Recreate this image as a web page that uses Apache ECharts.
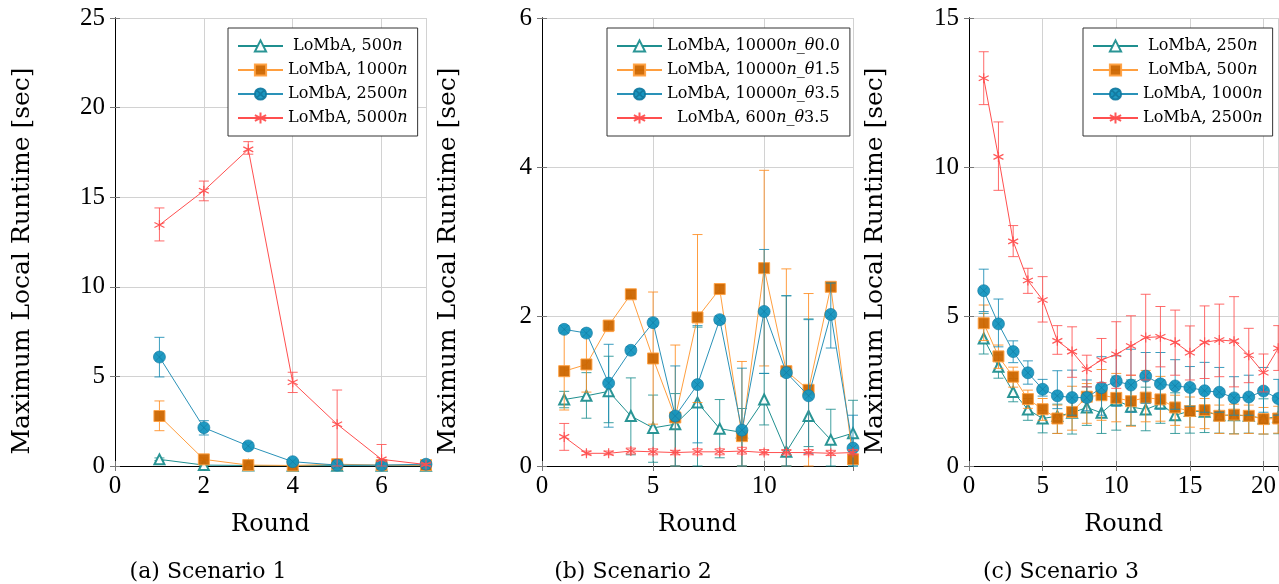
<!DOCTYPE html>
<html><head><meta charset="utf-8">
<script src="https://cdn.jsdelivr.net/npm/echarts@6/dist/echarts.min.js"></script>
<style>html,body{margin:0;padding:0;background:#fff}#c{width:1279px;height:584px}</style>
</head><body><div id="c"></div>
<script>
// ---------- Scenario 1 ----------
const rounds1 = [1,2,3,4,5,6,7];
const s1_500_mean  = [0.37,0.05,0.03,0.02,0.02,0.02,0.02];
const s1_500_lo    = [0.30,0.02,0.01,0.00,0.00,0.00,0.00];
const s1_500_hi    = [0.45,0.08,0.05,0.04,0.04,0.04,0.04];
const s1_1000_mean = [2.79,0.37,0.05,0.03,0.10,0.05,0.05];
const s1_1000_lo   = [1.97,0.30,0.02,0.01,0.00,0.01,0.02];
const s1_1000_hi   = [3.63,0.45,0.08,0.05,0.30,0.10,0.08];
const s1_2500_mean = [6.08,2.14,1.12,0.24,0.05,0.05,0.10];
const s1_2500_lo   = [4.97,1.73,0.95,0.18,0.02,0.02,0.05];
const s1_2500_hi   = [7.18,2.53,1.30,0.30,0.10,0.10,0.15];
const s1_5000_mean = [13.45,15.36,17.67,4.67,2.33,0.37,0.08];
const s1_5000_lo   = [12.56,14.80,17.40,4.10,0.00,0.00,0.02];
const s1_5000_hi   = [14.40,15.90,18.10,5.23,4.24,1.20,0.15];

// ---------- Scenario 2 ----------
const rounds2 = [1,2,3,4,5,6,7,8,9,10,11,12,13,14];
const s2_t00_mean = [0.89,0.94,1.00,0.67,0.51,0.56,0.85,0.50,0.45,0.89,0.19,0.67,0.35,0.44];
const s2_t00_lo   = [0.78,0.64,0.58,0.15,0.05,0.00,0.00,0.11,0.00,0.55,0.00,0.26,0.00,0.00];
const s2_t00_hi   = [1.00,1.25,1.47,1.18,0.95,0.97,1.86,0.89,0.77,1.24,2.28,1.97,0.76,0.88];
const s2_t15_mean = [1.27,1.36,1.88,2.30,1.44,0.65,1.99,2.37,0.40,2.65,1.27,1.02,2.40,0.09];
const s2_t15_lo   = [0.75,0.99,1.80,2.25,0.56,0.00,0.85,2.32,0.00,1.34,0.00,0.00,2.35,0.03];
const s2_t15_hi   = [1.82,1.75,1.95,2.35,2.33,1.62,3.10,2.42,1.40,3.96,2.64,2.31,2.45,0.15];
const s2_t35_mean = [1.83,1.78,1.11,1.55,1.92,0.67,1.09,1.96,0.48,2.07,1.25,0.94,2.03,0.24];
const s2_t35_lo   = [1.78,1.73,0.52,1.50,1.87,0.00,0.31,1.91,0.00,1.24,0.00,0.17,1.58,0.00];
const s2_t35_hi   = [1.88,1.83,1.63,1.60,1.97,1.34,1.88,2.01,1.31,2.90,2.28,1.96,2.45,0.68];
const s2_600_mean = [0.39,0.17,0.17,0.20,0.19,0.18,0.19,0.19,0.20,0.18,0.18,0.18,0.17,0.18];
const s2_600_lo   = [0.21,0.15,0.15,0.16,0.15,0.15,0.15,0.15,0.16,0.15,0.15,0.15,0.14,0.15];
const s2_600_hi   = [0.57,0.20,0.20,0.24,0.23,0.21,0.23,0.23,0.25,0.22,0.22,0.22,0.21,0.22];

// ---------- Scenario 3 ----------
const rounds3 = [1,2,3,4,5,6,7,8,9,10,11,12,13,14,15,16,17,18,19,20,21];
const s3_250_mean  = [4.27,3.32,2.48,1.89,1.59,1.67,1.78,1.96,1.78,2.20,1.98,1.89,2.09,1.70,1.84,1.82,1.70,1.70,1.68,1.59,1.64];
const s3_250_lo    = [3.75,2.94,2.15,1.53,1.11,1.09,1.07,1.36,1.09,1.20,1.36,1.18,1.43,1.09,1.10,1.12,1.10,1.08,1.10,1.07,1.08];
const s3_250_hi    = [5.11,3.72,2.93,2.26,1.86,2.07,2.29,2.65,2.48,3.01,2.88,2.64,2.88,2.45,2.55,2.50,2.40,2.40,2.35,2.25,2.30];
const s3_500_mean  = [4.78,3.67,2.99,2.24,1.90,1.59,1.81,2.32,2.37,2.28,2.17,2.29,2.23,1.96,1.84,1.87,1.68,1.72,1.68,1.57,1.59];
const s3_500_lo    = [4.20,3.27,2.64,1.93,1.53,1.09,1.20,1.43,1.53,1.48,1.33,1.48,1.50,1.36,1.30,1.25,1.09,1.07,1.09,1.07,1.10];
const s3_500_hi    = [5.39,4.05,3.31,2.54,2.26,2.04,2.67,2.76,3.23,3.10,3.04,3.20,3.00,2.37,2.31,2.26,2.04,2.07,2.04,1.96,2.00];
const s3_1000_mean = [5.87,4.76,3.83,3.12,2.57,2.35,2.29,2.29,2.62,2.84,2.71,3.01,2.75,2.68,2.63,2.52,2.47,2.28,2.31,2.51,2.26];
const s3_1000_lo   = [5.17,3.99,3.46,2.74,2.34,1.92,1.70,1.85,1.70,2.00,1.80,2.10,1.90,1.90,2.00,1.80,1.80,1.70,1.70,1.80,1.70];
const s3_1000_hi   = [6.59,5.59,4.19,3.52,2.90,3.19,3.21,2.88,3.66,3.69,3.91,3.80,3.80,3.56,3.33,3.47,3.30,2.99,3.04,3.30,2.90];
const s3_2500_mean = [12.98,10.35,7.52,6.21,5.56,4.19,3.83,3.24,3.55,3.74,4.02,4.30,4.33,4.14,3.79,4.14,4.22,4.18,3.71,3.12,3.94];
const s3_2500_lo   = [12.10,9.23,7.01,5.78,4.82,3.74,2.97,2.65,2.79,2.60,3.04,2.88,3.32,3.04,2.88,2.93,2.99,2.65,2.79,2.48,3.20];
const s3_2500_hi   = [13.87,11.52,8.05,6.62,6.34,4.70,4.66,3.71,4.27,4.83,5.03,5.75,5.34,5.22,4.69,5.36,5.42,5.67,4.61,3.75,4.70];

// axis settings (tick labels / ranges)
const xMax = [7, 14, 21], xInterval = [2, 5, 5];
const yMax = [25, 6, 15], yInterval = [5, 2, 5];
const xTitle = 'Round';
const yTitle = 'Maximum Local Runtime [sec]';
const captions = ['(a) Scenario 1', '(b) Scenario 2', '(c) Scenario 3'];
const legendNames = [
  ['LoMbA, 500n','LoMbA, 1000n','LoMbA, 2500n','LoMbA, 5000n'],
  ['LoMbA, 10000n_θ0.0','LoMbA, 10000n_θ1.5','LoMbA, 10000n_θ3.5','LoMbA, 600n_θ3.5'],
  ['LoMbA, 250n','LoMbA, 500n','LoMbA, 1000n','LoMbA, 2500n']
];

// ---------- styles ----------
const SERIF = '"Liberation Serif", serif';
const TSERIF = '"DejaVu Serif", serif';
const LFONT = '"DejaVu Serif", serif';
const LSIZE = 16;
const STAR = 'path://M0,-10L0,10M-8.66,-5L8.66,5M-8.66,5L8.66,-5';
const OCIRC = 'path://M10,0A10,10,0,1,1,-10,0A10,10,0,1,1,10,0ZM-6.5,-6.5L6.5,6.5M-6.5,6.5L6.5,-6.5';
const styles = [
  {line:'#1f8f8f', err:'rgba(31,143,143,0.85)', symbol:'emptyTriangle', size:10, fill:'#1f8f8f', border:'#1f8f8f', bw:1.2},
  {line:'#ff9f3f', err:'rgba(255,140,30,0.85)', symbol:'rect', size:11, fill:'#cc6600', border:'#ffa040', bw:1},
  {line:'#2a92b8', err:'rgba(25,140,180,0.85)', symbol:OCIRC, size:12, fill:'#1596c0', border:'#137aa0', bw:0.7},
  {line:'#ff4f4f', err:'rgba(255,80,80,0.85)', symbol:STAR, size:10, fill:'#ff4f4f', border:'#ff4f4f', bw:1.2}
];
const prefixes = ['a:','b:','c:'];

const grids = [
  {left:115, top:18, width:311, height:448},
  {left:542, top:18, width:311, height:448},
  {left:969, top:18, width:311, height:448}
];

function errRender(color){
  return function(params, api){
    const x = api.value(0), lo = api.value(1), hi = api.value(2);
    const p1 = api.coord([x, hi]), p2 = api.coord([x, lo]);
    const w = 5;
    const st = {stroke: color, lineWidth: 1};
    return {type:'group', children:[
      {type:'line', shape:{x1:p1[0], y1:p1[1], x2:p2[0], y2:p2[1]}, style:st},
      {type:'line', shape:{x1:p1[0]-w, y1:p1[1], x2:p1[0]+w, y2:p1[1]}, style:st},
      {type:'line', shape:{x1:p2[0]-w, y1:p2[1], x2:p2[0]+w, y2:p2[1]}, style:st}
    ]};
  };
}

const series = [];
function addSeries(g, k, rounds, mean, lo, hi){
  const s = styles[k];
  series.push({
    type:'custom', name:'err'+g+k, xAxisIndex:g, yAxisIndex:g,
    renderItem: errRender(s.err), clip:false, z: 2+k*2,
    encode:{x:0, y:[1,2]},
    data: rounds.map((r,i)=>[r, lo[i], hi[i]]),
    silent:true
  });
  series.push({
    type:'line', name: prefixes[g]+legendNames[g][k], xAxisIndex:g, yAxisIndex:g,
    data: rounds.map((r,i)=>[r, mean[i]]),
    symbol: s.symbol, symbolSize: s.size, showSymbol:true, clip:false,
    z: 3+k*2, animation:false,
    lineStyle:{color:s.line, width:1},
    itemStyle:{color:s.fill, borderColor:s.border, borderWidth:s.bw, opacity:0.95}
  });
}
addSeries(0,0,rounds1,s1_500_mean,s1_500_lo,s1_500_hi);
addSeries(0,1,rounds1,s1_1000_mean,s1_1000_lo,s1_1000_hi);
addSeries(0,2,rounds1,s1_2500_mean,s1_2500_lo,s1_2500_hi);
addSeries(0,3,rounds1,s1_5000_mean,s1_5000_lo,s1_5000_hi);
addSeries(1,0,rounds2,s2_t00_mean,s2_t00_lo,s2_t00_hi);
addSeries(1,1,rounds2,s2_t15_mean,s2_t15_lo,s2_t15_hi);
addSeries(1,2,rounds2,s2_t35_mean,s2_t35_lo,s2_t35_hi);
addSeries(1,3,rounds2,s2_600_mean,s2_600_lo,s2_600_hi);
addSeries(2,0,rounds3,s3_250_mean,s3_250_lo,s3_250_hi);
addSeries(2,1,rounds3,s3_500_mean,s3_500_lo,s3_500_hi);
addSeries(2,2,rounds3,s3_1000_mean,s3_1000_lo,s3_1000_hi);
addSeries(2,3,rounds3,s3_2500_mean,s3_2500_lo,s3_2500_hi);

const xAxes = [], yAxes = [];
const tickStyle = {show:true, inside:true, length:5, lineStyle:{color:'#777'}};
for (let g=0; g<3; g++){
  xAxes.push({
    type:'value', gridIndex:g, min:0, max:xMax[g], interval:xInterval[g],
    name:xTitle, nameLocation:'middle', nameGap:47,
    nameTextStyle:{fontFamily:TSERIF, fontSize:24, color:'#000'},
    axisLine:{show:true, lineStyle:{color:'#000', width:1}},
    axisTick:tickStyle,
    axisLabel:{fontFamily:SERIF, fontSize:25, color:'#000', margin:8, showMaxLabel:false},
    splitLine:{show:true, lineStyle:{color:'#d2d2d2', width:1}}
  });
  yAxes.push({
    type:'value', gridIndex:g, min:0, max:yMax[g], interval:yInterval[g],
    axisLine:{show:true, lineStyle:{color:'#000', width:1}},
    axisTick:tickStyle,
    axisLabel:{fontFamily:SERIF, fontSize:25, color:'#000', margin:10},
    splitLine:{show:true, lineStyle:{color:'#d2d2d2', width:1}}
  });
}
for (let g=0; g<3; g++){
  xAxes.push({type:'value', gridIndex:g, position:'top', min:0, max:xMax[g], interval:xInterval[g],
    axisLine:{show:true, lineStyle:{color:'#000'}}, axisTick:tickStyle, axisLabel:{show:false}, splitLine:{show:false}});
  yAxes.push({type:'value', gridIndex:g, position:'right', min:0, max:yMax[g], interval:yInterval[g],
    axisLine:{show:true, lineStyle:{color:'#000'}}, axisTick:tickStyle, axisLabel:{show:false}, splitLine:{show:false}});
}

// measure label widths so that shorter labels are centred like in the reference
const mctx = document.createElement('canvas').getContext('2d');
function partsOf(s){ return s.split(/(n|θ)/).filter(p=>p); }
function textW(s){
  let w = 0;
  partsOf(s).forEach(p=>{
    mctx.font = ((p==='n'||p==='θ') ? 'italic ' : '') + LSIZE + 'px ' + LFONT;
    w += mctx.measureText(p).width;
  });
  return w;
}
const padMap = {};
legendNames.forEach((names,g)=>{
  const ws = names.map(textW);
  const mx = Math.max.apply(null, ws);
  names.forEach((n,k)=>{ padMap[prefixes[g]+n] = Math.round((mx - ws[k]) / 2); });
});
const richStyles = {
  t:{fontFamily:LFONT, fontSize:LSIZE, color:'#000', lineHeight:16},
  i:{fontFamily:LFONT, fontSize:LSIZE, fontStyle:'italic', color:'#000', lineHeight:16}
};
for (let p=1; p<=40; p++) richStyles['s'+p] = {width:p, fontSize:LSIZE, fontFamily:LFONT, lineHeight:16};
function legendFmt(name){
  const s = name.slice(2);
  const pad = padMap[name] || 0;
  const lead = pad > 0 ? '{s'+pad+'| }' : '';
  return lead + partsOf(s).map(p => (p==='n'||p==='θ') ? '{i|'+p+'}' : '{t|'+p+'}').join('');
}
const legendPos = [{left:228, top:28}, {left:607, top:28}, {left:1083, top:28}];
const legends = legendPos.map((p,g)=>({
  orient:'vertical', left:p.left, top:p.top,
  data: legendNames[g].map(n=>prefixes[g]+n),
  itemWidth:45, itemHeight:14, itemGap:8,
  padding:[10,10,10,9],
  borderColor:'#333', borderWidth:1, backgroundColor:'#fff',
  formatter: legendFmt,
  selectedMode:false,
  textStyle:{color:'#000', fontFamily:LFONT, fontSize:LSIZE, lineHeight:16, rich:richStyles}
}));

const capCenters = [208, 633, 1061];
const yTitleX = [22, 448, 875];
const graphic = captions.map((c,i)=>({
  type:'text', x: capCenters[i], y: 572,
  style:{text:c, font:'22px '+TSERIF, fill:'#000', align:'center', verticalAlign:'middle'}
})).concat(yTitleX.map(x=>({
  type:'text', x: x, y: 261, rotation: Math.PI/2,
  style:{text:yTitle, font:'25px '+TSERIF, fill:'#000', align:'center', verticalAlign:'middle'}
})));

const chart = echarts.init(document.getElementById('c'), null, {renderer:'canvas'});
chart.setOption({
  animation:false,
  backgroundColor:'#fff',
  grid: grids.map(g=>Object.assign({containLabel:false, show:false}, g)),
  xAxis: xAxes, yAxis: yAxes,
  legend: legends,
  series: series,
  graphic: graphic
});
</script></body></html>
